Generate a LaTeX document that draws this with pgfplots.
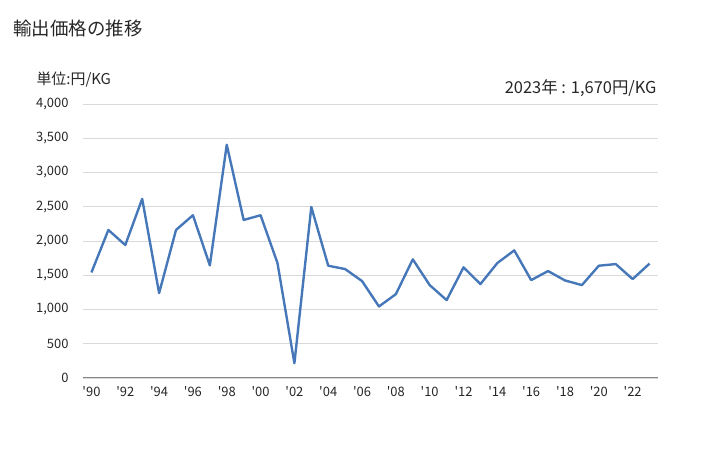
\documentclass[border=0pt]{standalone}
\usepackage{pgfplots}
\pgfplotsset{compat=1.18}
\usepackage{fontspec}
\setmainfont{Noto Sans CJK JP}
\definecolor{lineblue}{RGB}{70,120,185}
\definecolor{gridgray}{RGB}{217,217,217}
\definecolor{axisgray}{RGB}{134,134,134}
\newcommand{\q}{\textquotesingle}
\begin{document}
\begin{tikzpicture}[x=1bp,y=1bp]
\path[use as bounding box] (0,0) rectangle (728,450);
\begin{axis}[
  at={(83bp,72bp)}, anchor=south west,
  scale only axis, width=575bp, height=274bp,
  xmin=1989.5, xmax=2023.5, ymin=0, ymax=4000,
  axis x line*=bottom, axis y line*=left,
  x axis line style={axisgray, line width=1pt, -},
  y axis line style={draw=none},
  xtick={1990,1992,...,2022},
  xticklabels={\q90,\q92,\q94,\q96,\q98,\q00,\q02,\q04,\q06,\q08,\q10,\q12,\q14,\q16,\q18,\q20,\q22},
  major tick length=0pt,
  ytick={0,500,...,4000},
  ymajorgrids, grid style={gridgray, line width=0.8pt},
  yticklabel style={anchor=east, xshift=-11bp},
  xticklabel style={yshift=-5bp},
  ticklabel style={font=\fontsize{13}{15}\selectfont, text=black!85},
  /pgf/number format/assume math mode=true,
  /pgf/number format/1000 sep={,},
  scaled y ticks=false,
  clip=false,
]
\addplot[lineblue, line width=2.4pt, line join=round] coordinates {
(1990,1541) (1991,2161) (1992,1941) (1993,2615) (1994,1239) (1995,2161)
(1996,2376) (1997,1644) (1998,3405) (1999,2307) (2000,2376) (2001,1678)
(2002,215) (2003,2497) (2004,1639) (2005,1590) (2006,1415) (2007,1044)
(2008,1224) (2009,1732) (2010,1356) (2011,1137) (2012,1615) (2013,1371)
(2014,1678) (2015,1863) (2016,1429) (2017,1561) (2018,1424) (2019,1356)
(2020,1639) (2021,1663) (2022,1444) (2023,1670)
};
\end{axis}
\node[anchor=west, font=\fontsize{18.5}{22}\selectfont, text=black!85] at (10,422) {輸出価格の推移};
\node[anchor=west, font=\fontsize{15}{18}\selectfont, text=black!85] at (33,370) {単位:円/KG};
\node[anchor=east, font=\fontsize{16.5}{19}\selectfont, text=black!85] at (660,362) {2023年 : 1,670円/KG};
\end{tikzpicture}
\end{document}
